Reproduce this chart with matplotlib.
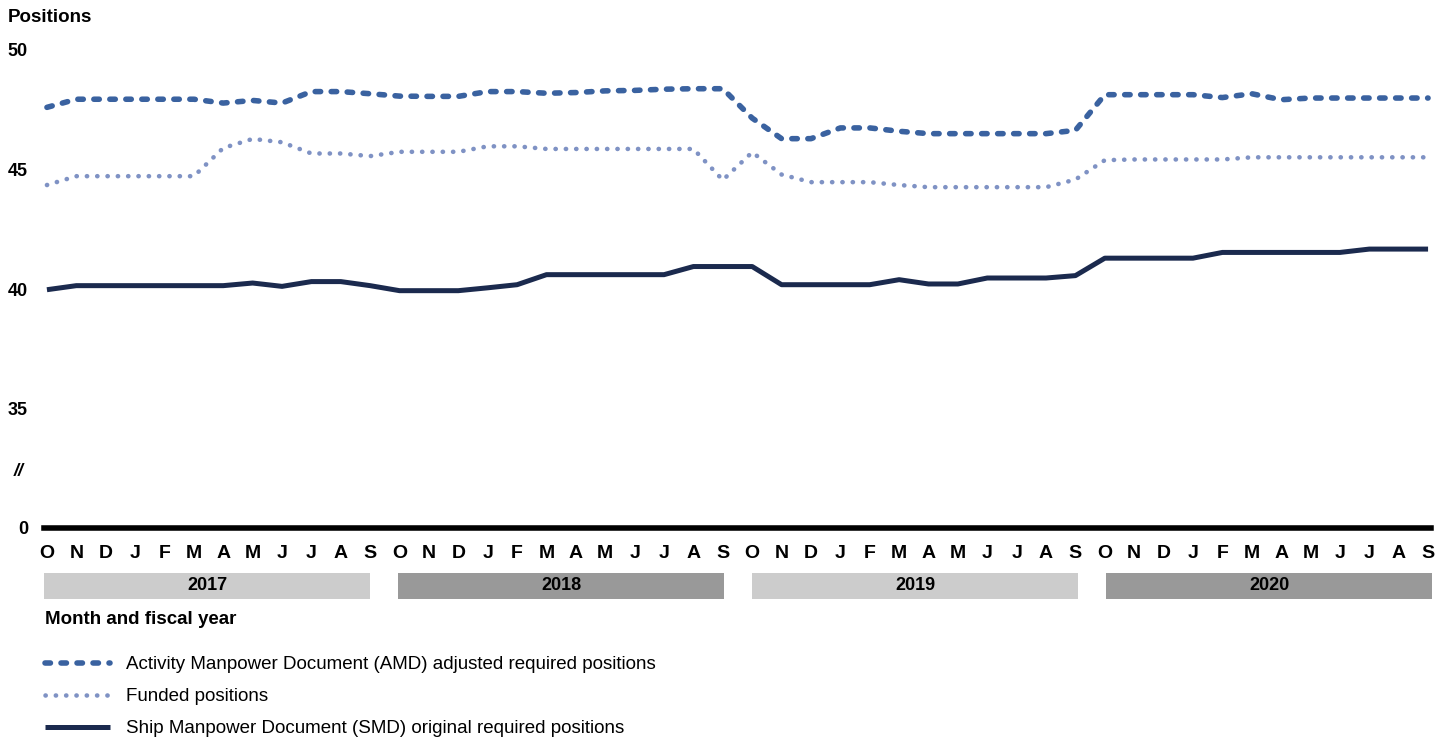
import matplotlib
matplotlib.use("Agg")
import matplotlib.pyplot as plt
import matplotlib.transforms as mtransforms
from matplotlib.patches import Rectangle

plt.rcParams['font.family'] = ['Liberation Sans', 'DejaVu Sans']

months = ['O', 'N', 'D', 'J', 'F', 'M', 'A', 'M', 'J', 'J', 'A', 'S'] * 4
years = ['2017', '2018', '2019', '2020']

amd = [47.60, 47.94, 47.94, 47.94, 47.94, 47.94, 47.78, 47.89, 47.78, 48.26, 48.26, 48.17,
       48.07, 48.06, 48.06, 48.26, 48.26, 48.19, 48.22, 48.29, 48.31, 48.36, 48.38, 48.38,
       47.15, 46.29, 46.29, 46.74, 46.74, 46.60, 46.50, 46.50, 46.50, 46.50, 46.50, 46.64,
       48.13, 48.13, 48.13, 48.13, 48.01, 48.17, 47.92, 47.99, 47.99, 47.99, 47.99, 47.99]
funded = [44.35, 44.72, 44.72, 44.72, 44.72, 44.72, 45.90, 46.28, 46.14, 45.67, 45.67, 45.56,
          45.74, 45.74, 45.74, 45.97, 45.97, 45.86, 45.86, 45.86, 45.86, 45.86, 45.86, 44.56,
          45.72, 44.79, 44.47, 44.47, 44.47, 44.35, 44.26, 44.26, 44.26, 44.26, 44.26, 44.58,
          45.39, 45.42, 45.42, 45.42, 45.42, 45.51, 45.51, 45.51, 45.51, 45.51, 45.51, 45.51]
smd = [39.97, 40.14, 40.14, 40.14, 40.14, 40.14, 40.14, 40.25, 40.11, 40.31, 40.31, 40.14,
       39.93, 39.93, 39.93, 40.05, 40.18, 40.60, 40.60, 40.60, 40.60, 40.60, 40.94, 40.94,
       40.94, 40.18, 40.18, 40.18, 40.18, 40.39, 40.21, 40.21, 40.46, 40.46, 40.46, 40.56,
       41.29, 41.29, 41.29, 41.29, 41.53, 41.53, 41.53, 41.53, 41.53, 41.67, 41.67, 41.67]

labels = ['Activity Manpower Document (AMD) adjusted required positions',
          'Funded positions',
          'Ship Manpower Document (SMD) original required positions']

c_amd = '#3a62a0'
c_fund = '#7f92c4'
c_smd = '#1b2a4e'

W, H = 1450, 741
fig = plt.figure(figsize=(W / 100, H / 100), dpi=100)

# the axis is broken below 35: the zero line is drawn at 30
base = 30
left_px, right_px = 44, 1431
bot_px, top_px = 528, 40
ax = fig.add_axes([left_px / W, 1 - bot_px / H, (right_px - left_px) / W, (bot_px - top_px) / H])
ax.set_xlim(-0.1, 47.1)
ax.set_ylim(base, base + (bot_px - top_px) / 23.9)

x = list(range(len(months)))
ax.plot(x, amd, color=c_amd, lw=4, ls=(0, (0.98, 1.9)), dash_capstyle='round', label=labels[0])
ax.plot(x, funded, color=c_fund, lw=3.3, ls=(0, (0.05, 2.2)), dash_capstyle='round', label=labels[1])
ax.plot(x, smd, color=c_smd, lw=3.6, solid_capstyle='butt', label=labels[2])
ax.axhline(base, color='black', lw=4, clip_on=False, zorder=5)

for s in ax.spines.values():
    s.set_visible(False)
ax.set_yticks([30, 35, 40, 45, 50], ['0', '35', '40', '45', '50'])
ax.tick_params(axis='y', length=0, pad=11.5, labelsize=13)
for t in ax.get_yticklabels():
    t.set_fontweight('bold')
ax.set_xticks([])
brk = mtransforms.blended_transform_factory(fig.transFigure, ax.transData)
ax.text(14 / W, 32.35, '//', transform=brk, ha='left', va='center',
        fontsize=13, fontweight='bold', fontstyle='italic')
fig.text(8 / W, 1 - 18 / H, 'Positions', ha='left', va='center', fontsize=13.5, fontweight='bold')

# month letters and fiscal-year bands
tr = mtransforms.blended_transform_factory(ax.transData, fig.transFigure)
for i, m in enumerate(months):
    ax.text(i, 1 - 554 / H, m, transform=tr, ha='center', va='center',
            fontsize=14, fontweight='bold', clip_on=False)
band_colors = ['#cccccc', '#999999']
for k, yr in enumerate(years):
    x0 = 12.05 * k - 0.1
    x1 = x0 + 11.1
    ax.add_patch(Rectangle((x0, 1 - 599 / H), x1 - x0, 26 / H, transform=tr,
                           facecolor=band_colors[k % 2], edgecolor='none', clip_on=False))
    ax.text((x0 + x1) / 2, 1 - 586 / H, yr, transform=tr, ha='center', va='center',
            fontsize=13, fontweight='bold', clip_on=False)
fig.text(45 / W, 1 - 619 / H, 'Month and fiscal year', ha='left', va='center',
         fontsize=13.5, fontweight='bold')

handles, hl = ax.get_legend_handles_labels()
fig.legend(handles, hl, loc='upper left', bbox_to_anchor=(45 / W, 1 - 656 / H),
           frameon=False, fontsize=13.5, handlelength=3.47, handletextpad=0.85,
           labelspacing=0.8, borderpad=0, borderaxespad=0)

fig.savefig('out.png', dpi=100)
